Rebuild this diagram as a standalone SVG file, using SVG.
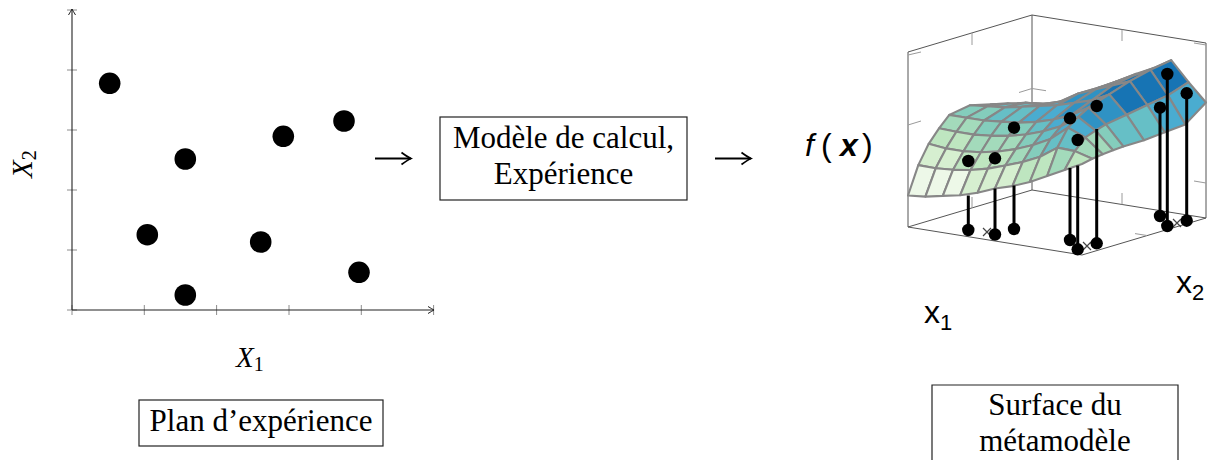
<svg xmlns="http://www.w3.org/2000/svg" width="1213" height="460" viewBox="0 0 1213 460">
<defs>
<marker id="ahead" markerWidth="8" markerHeight="8" refX="7" refY="4" orient="auto" markerUnits="userSpaceOnUse">
<path d="M1,0.5 Q5.5,3.2 7,4 Q5.5,4.8 1,7.5" fill="none" stroke="#222" stroke-width="1"/>
</marker>
<marker id="lhead" markerWidth="13" markerHeight="15" refX="11.5" refY="7.5" orient="auto" markerUnits="userSpaceOnUse">
<path d="M2,1.5 Q8.5,6.3 11.5,7.5 Q8.5,8.7 2,13.5" fill="none" stroke="#000" stroke-width="1.7"/>
</marker>
</defs>
<style>
.serif{font-family:"Liberation Serif","Times New Roman",serif;fill:#000}
.sans{font-family:"Liberation Sans",Arial,sans-serif;fill:#000}
.box{fill:none;stroke:#222;stroke-width:1.2}
.tick{stroke:#8c8c8c;stroke-width:1;fill:none}
.axis{stroke:#222;stroke-width:1.1;fill:none}
.dot{fill:#000}
.mesh polygon{stroke:#878787;stroke-width:2.1;stroke-linejoin:round}
.c1{fill:#edf8e8}.c2{fill:#d6efd0}.c3{fill:#bee6c0}.c4{fill:#a3dabb}.c5{fill:#84cdbc}
.c6{fill:#66bfc6}.c7{fill:#4aacd0}.c8{fill:#2f92c4}.c9{fill:#1774b4}
.drop{stroke:#000;stroke-width:3;fill:none}
.cube{stroke:#555;stroke-width:1;fill:none}
.ctick{stroke:#9a9a9a;stroke-width:1;fill:none}
.conn{stroke:#000;stroke-width:1.8;fill:none}
</style>

<g id="plan-experience">
<path class="tick" d="M67,10H77M67,70H77M67,130H77M67,190H77M67,250H77M67,310H77M72,305V315M144.3,305V315M216.6,305V315M289,305V315M361.3,305V315M433.6,305V315"/>
<path class="axis" d="M72,310V9" marker-end="url(#ahead)"/>
<path class="axis" d="M72,310H434" marker-end="url(#ahead)"/>
<circle class="dot" cx="109.7" cy="83.3" r="10.8"/>
<circle class="dot" cx="185.3" cy="159" r="10.8"/>
<circle class="dot" cx="283.3" cy="136.3" r="10.8"/>
<circle class="dot" cx="344" cy="121" r="10.8"/>
<circle class="dot" cx="147.3" cy="234.7" r="10.8"/>
<circle class="dot" cx="260.7" cy="242" r="10.8"/>
<circle class="dot" cx="359" cy="272.3" r="10.8"/>
<circle class="dot" cx="185.3" cy="295" r="10.8"/>
<text class="serif" x="236" y="367" font-size="29"><tspan font-style="italic">X</tspan><tspan font-size="20" dy="4">1</tspan></text>
<text class="serif" transform="translate(32,178) rotate(-90)" font-size="29"><tspan font-style="italic">X</tspan><tspan font-size="20" dy="4">2</tspan></text>
</g>

<g id="label-plan">
<rect class="box" x="139" y="400" width="244" height="46"/>
<text class="serif" x="261" y="431" font-size="31" text-anchor="middle">Plan d’expérience</text>
</g>

<g id="modele">
<rect class="box" x="440" y="117" width="247" height="83"/>
<text class="serif" x="563.5" y="148" font-size="31" text-anchor="middle">Modèle de calcul,</text>
<text class="serif" x="563.5" y="183.5" font-size="31" text-anchor="middle">Expérience</text>
</g>

<g id="metamodele">
<text class="sans" y="156" font-size="32"><tspan x="805" font-style="italic">f</tspan><tspan x="821">(</tspan><tspan x="840" font-style="italic" font-weight="bold">x</tspan><tspan x="862">)</tspan></text>
<path class="cube" d="M908,227L908,52L1032,15L1206,43L1206,218M1032,15L1032,190M908,227L1032,190L1206,218M908,227L1082,255L1206,218"/>
<path class="ctick" d="M908,55L921,52M908,125L921,121M1019,92.5L1032,88.5L1046,90.7M1206,45L1194,43M1206,183L1194,181M972,33V45M1122,29.5V41M972,208V197M1122,204.5V193M1147,235.5L1135,233.6"/>
<g class="mesh">
<polygon class="c4" points="1011.3,106.9 1028.7,106.2 1049.4,108.8 1032,109.5"/>
<polygon class="c5" points="1028.7,106.2 1046.1,103.8 1066.8,104.6 1049.4,108.8"/>
<polygon class="c5" points="1046.1,103.8 1063.5,103.1 1084.2,100.4 1066.8,104.6"/>
<polygon class="c6" points="1063.5,103.1 1080.9,98.9 1101.6,92.7 1084.2,100.4"/>
<polygon class="c7" points="1080.9,98.9 1098.3,87.7 1119,81.5 1101.6,92.7"/>
<polygon class="c8" points="1098.3,87.7 1115.7,81.7 1136.4,73.8 1119,81.5"/>
<polygon class="c8" points="1115.7,81.7 1133.1,75.8 1153.8,67.9 1136.4,73.8"/>
<polygon class="c9" points="1133.1,75.8 1150.5,69.8 1171.2,60.2 1153.8,67.9"/>
<polygon class="c9" points="1150.5,69.8 1167.9,95.4 1188.6,82.2 1171.2,60.2"/>
<polygon class="c7" points="1167.9,95.4 1185.3,124.4 1206,102.5 1188.6,82.2"/>

<polygon class="c5" points="990.7,104.3 1008.1,103.6 1028.7,106.2 1011.3,106.9"/>
<polygon class="c5" points="1008.1,103.6 1025.5,102.9 1046.1,103.8 1028.7,106.2"/>
<polygon class="c6" points="1025.5,102.9 1042.9,104 1063.5,103.1 1046.1,103.8"/>
<polygon class="c6" points="1042.9,104 1060.3,101.5 1080.9,98.9 1063.5,103.1"/>
<polygon class="c7" points="1060.3,101.5 1077.7,93.8 1098.3,87.7 1080.9,98.9"/>
<polygon class="c8" points="1077.7,93.8 1095.1,89.6 1115.7,81.7 1098.3,87.7"/>
<polygon class="c9" points="1095.1,89.6 1112.5,85.4 1133.1,75.8 1115.7,81.7"/>
<polygon class="c9" points="1112.5,85.4 1129.9,81.2 1150.5,69.8 1133.1,75.8"/>
<polygon class="c9" points="1129.9,81.2 1147.3,105 1167.9,95.4 1150.5,69.8"/>
<polygon class="c7" points="1147.3,105 1164.7,132.3 1185.3,124.4 1167.9,95.4"/>

<polygon class="c5" points="970,105.3 987.4,106.3 1008.1,103.6 990.7,104.3"/>
<polygon class="c6" points="987.4,106.3 1004.8,107.4 1025.5,102.9 1008.1,103.6"/>
<polygon class="c6" points="1004.8,107.4 1022.2,106.7 1042.9,104 1025.5,102.9"/>
<polygon class="c7" points="1022.2,106.7 1039.6,106 1060.3,101.5 1042.9,104"/>
<polygon class="c7" points="1039.6,106 1057,105.3 1077.7,93.8 1060.3,101.5"/>
<polygon class="c8" points="1057,105.3 1074.4,102.8 1095.1,89.6 1077.7,93.8"/>
<polygon class="c8" points="1074.4,102.8 1091.8,100.4 1112.5,85.4 1095.1,89.6"/>
<polygon class="c9" points="1091.8,100.4 1109.2,94.4 1129.9,81.2 1112.5,85.4"/>
<polygon class="c9" points="1109.2,94.4 1126.6,114.7 1147.3,105 1129.9,81.2"/>
<polygon class="c6" points="1126.6,114.7 1144,140.3 1164.7,132.3 1147.3,105"/>

<polygon class="c5" points="949.3,114.9 966.7,117.7 987.4,106.3 970,105.3"/>
<polygon class="c5" points="966.7,117.7 984.1,120.5 1004.8,107.4 987.4,106.3"/>
<polygon class="c6" points="984.1,120.5 1001.5,121.6 1022.2,106.7 1004.8,107.4"/>
<polygon class="c6" points="1001.5,121.6 1018.9,122.6 1039.6,106 1022.2,106.7"/>
<polygon class="c7" points="1018.9,122.6 1036.3,121.9 1057,105.3 1039.6,106"/>
<polygon class="c7" points="1036.3,121.9 1053.7,119.5 1074.4,102.8 1057,105.3"/>
<polygon class="c8" points="1053.7,119.5 1071.1,115.3 1091.8,100.4 1074.4,102.8"/>
<polygon class="c8" points="1071.1,115.3 1088.5,107.6 1109.2,94.4 1091.8,100.4"/>
<polygon class="c8" points="1088.5,107.6 1105.9,124.4 1126.6,114.7 1109.2,94.4"/>
<polygon class="c6" points="1105.9,124.4 1123.3,146.4 1144,140.3 1126.6,114.7"/>

<polygon class="c4" points="939,128.3 956.4,131.8 966.7,117.7 949.3,114.9"/>
<polygon class="c4" points="956.4,131.8 973.8,134.6 984.1,120.5 966.7,117.7"/>
<polygon class="c5" points="973.8,134.6 991.2,135.7 1001.5,121.6 984.1,120.5"/>
<polygon class="c5" points="991.2,135.7 1008.6,135.9 1018.9,122.6 1001.5,121.6"/>
<polygon class="c5" points="1008.6,135.9 1026,134.5 1036.3,121.9 1018.9,122.6"/>
<polygon class="c6" points="1026,134.5 1043.4,131.3 1053.7,119.5 1036.3,121.9"/>
<polygon class="c7" points="1043.4,131.3 1060.8,126.3 1071.1,115.3 1053.7,119.5"/>
<polygon class="c7" points="1060.8,126.3 1078.2,117 1088.5,107.6 1071.1,115.3"/>
<polygon class="c8" points="1078.2,117 1095.6,130.6 1105.9,124.4 1088.5,107.6"/>
<polygon class="c5" points="1095.6,130.6 1113,150.3 1123.3,146.4 1105.9,124.4"/>

<polygon class="c3" points="928.7,143.8 946.1,148.4 956.4,131.8 939,128.3"/>
<polygon class="c3" points="946.1,148.4 963.5,151.2 973.8,134.6 956.4,131.8"/>
<polygon class="c4" points="963.5,151.2 980.9,152.2 991.2,135.7 973.8,134.6"/>
<polygon class="c4" points="980.9,152.2 998.3,151.5 1008.6,135.9 991.2,135.7"/>
<polygon class="c4" points="998.3,151.5 1015.7,149.1 1026,134.5 1008.6,135.9"/>
<polygon class="c5" points="1015.7,149.1 1033.1,144.9 1043.4,131.3 1026,134.5"/>
<polygon class="c6" points="1033.1,144.9 1050.5,138.9 1060.8,126.3 1043.4,131.3"/>
<polygon class="c7" points="1050.5,138.9 1067.9,127.7 1078.2,117 1060.8,126.3"/>
<polygon class="c7" points="1067.9,127.7 1085.3,137.5 1095.6,130.6 1078.2,117"/>
<polygon class="c4" points="1085.3,137.5 1102.7,154.3 1113,150.3 1095.6,130.6"/>

<polygon class="c2" points="918.3,165.1 935.7,168.3 946.1,148.4 928.7,143.8"/>
<polygon class="c2" points="935.7,168.3 953.1,169.7 963.5,151.2 946.1,148.4"/>
<polygon class="c3" points="953.1,169.7 970.5,170 980.9,152.2 963.5,151.2"/>
<polygon class="c3" points="970.5,170 987.9,168.6 998.3,151.5 980.9,152.2"/>
<polygon class="c3" points="987.9,168.6 1005.3,165.5 1015.7,149.1 998.3,151.5"/>
<polygon class="c4" points="1005.3,165.5 1022.7,162 1033.1,144.9 1015.7,149.1"/>
<polygon class="c5" points="1022.7,162 1040.1,156.7 1050.5,138.9 1033.1,144.9"/>
<polygon class="c6" points="1040.1,156.7 1057.5,147.6 1067.9,127.7 1050.5,138.9"/>
<polygon class="c6" points="1057.5,147.6 1074.9,151.1 1085.3,137.5 1067.9,127.7"/>
<polygon class="c4" points="1074.9,151.1 1092.3,158.8 1102.7,154.3 1085.3,137.5"/>

<polygon class="c1" points="908,195.5 925.4,196.6 935.7,168.3 918.3,165.1"/>
<polygon class="c1" points="925.4,196.6 942.8,195.9 953.1,169.7 935.7,168.3"/>
<polygon class="c1" points="942.8,195.9 960.2,195.2 970.5,170 953.1,169.7"/>
<polygon class="c2" points="960.2,195.2 977.6,192.7 987.9,168.6 970.5,170"/>
<polygon class="c2" points="977.6,192.7 995,188.5 1005.3,165.5 987.9,168.6"/>
<polygon class="c2" points="995,188.5 1012.4,186.1 1022.7,162 1005.3,165.5"/>
<polygon class="c3" points="1012.4,186.1 1029.8,181.9 1040.1,156.7 1022.7,162"/>
<polygon class="c3" points="1029.8,181.9 1047.2,175.9 1057.5,147.6 1040.1,156.7"/>
<polygon class="c4" points="1047.2,175.9 1064.6,170 1074.9,151.1 1057.5,147.6"/>
<polygon class="c3" points="1064.6,170 1082,164 1092.3,158.8 1074.9,151.1"/>
</g>
<path d="M983,228L991,236M983,236L991,228M1083,242L1091,250M1083,250L1091,242M1173,219L1181,227M1173,227L1181,219" stroke="#444" stroke-width="1.2" fill="none"/>
<path class="drop" d="M968.3,195.5V230M995,188.5V234.5M1014,185.5V229M1070,168V240M1077.7,165.5V249.3M1096.7,129V243.3M1160,107.7V216M1167.3,74V226M1186.7,93.3V220.7"/>
<g class="dot">
<circle cx="968.3" cy="161" r="6.2"/><circle cx="995" cy="158.3" r="6.2"/><circle cx="1014" cy="127.7" r="6.2"/>
<circle cx="1070" cy="118.3" r="6.2"/><circle cx="1077.7" cy="140" r="6.2"/><circle cx="1096.7" cy="106" r="6.2"/>
<circle cx="1160" cy="107.7" r="6.2"/><circle cx="1167.3" cy="74" r="6.2"/><circle cx="1186.7" cy="93.3" r="6.2"/>
<circle cx="968.3" cy="230" r="6.2"/><circle cx="995" cy="234.5" r="6.2"/><circle cx="1014" cy="229" r="6.2"/>
<circle cx="1070" cy="240" r="6.2"/><circle cx="1077.7" cy="249.3" r="6.2"/><circle cx="1096.7" cy="243.3" r="6.2"/>
<circle cx="1160" cy="216" r="6.2"/><circle cx="1167.3" cy="226" r="6.2"/><circle cx="1186.7" cy="220.7" r="6.2"/>
</g>
<text class="sans" x="924" y="323" font-size="32">x<tspan font-size="22" dy="7">1</tspan></text>
<text class="sans" x="1176" y="293" font-size="32">x<tspan font-size="22" dy="7">2</tspan></text>
</g>

<g id="label-surface">
<path class="box" d="M932,462V385H1178V462"/>
<text class="serif" x="1055" y="415" font-size="31" text-anchor="middle">Surface du</text>
<text class="serif" x="1055" y="451" font-size="31" text-anchor="middle">métamodèle</text>
</g>

<g id="connectors">
<path class="conn" d="M375,158.5H411" marker-end="url(#lhead)"/>
<path class="conn" d="M715,158.5H751" marker-end="url(#lhead)"/>
</g>
</svg>
